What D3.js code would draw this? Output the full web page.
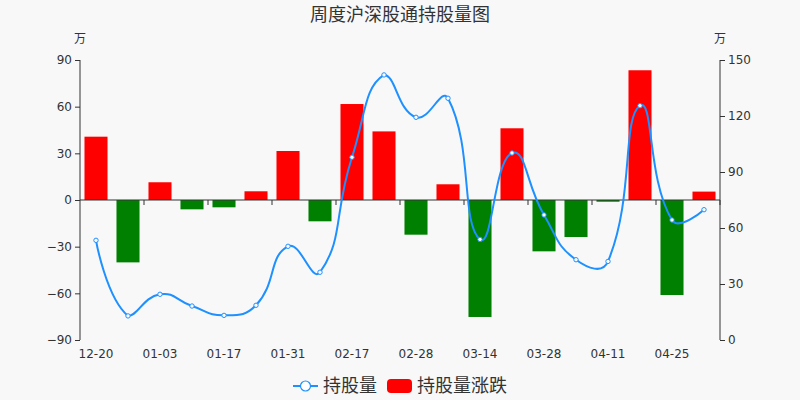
<!DOCTYPE html>
<html><head><meta charset="utf-8">
<script src="https://cdn.jsdelivr.net/npm/d3@7/dist/d3.min.js"></script>
<style>
html,body{margin:0;padding:0;background:#f8f8f8;}
svg{display:block;font-family:"DejaVu Sans","Noto Sans CJK SC",sans-serif;}
</style></head>
<body><svg id="c" width="800" height="400"></svg>
<script>
const categories = ["12-20","12-27","01-03","01-10","01-17","01-24","01-31","02-07","02-17","02-21","02-28","03-07","03-14","03-21","03-28","04-04","04-11","04-18","04-25","05-02"];
const holdings = [53.4,12.9,24.5,18.2,13.2,18.6,50.2,36.3,97.9,142.0,119.3,129.5,53.9,100.2,67.0,43.0,42.1,125.5,64.3,69.8];
const changes = [40.7,-40.1,11.4,-6.0,-4.7,5.6,31.5,-13.7,61.7,44.1,-22.3,10.1,-75.2,46.1,-33.0,-23.8,-1.1,83.4,-61.1,5.4];
const leftTicks = [-90,-60,-30,0,30,60,90];
const rightTicks = [0,30,60,90,120,150];
const title = "周度沪深股通持股量图";
const unit = "万";
const legendLine = "持股量";
const legendBar = "持股量涨跌";

const svg = d3.select("#c");
const L=80,R=720,T=60,B=340;
const x = d3.scaleBand().domain(categories).range([L,R]).paddingInner(0.28).paddingOuter(0.14);
const xb = d3.scaleBand().domain(categories).range([L,R]);
const yL = d3.scaleLinear().domain([-90,90]).range([B,T]);
const yR = d3.scaleLinear().domain([0,150]).range([B,T]);
const axisCol="#333", txtCol="#333";
const cjk = "Noto Sans CJK SC";

svg.append("text").attr("x",400).attr("y",21).attr("text-anchor","middle")
  .attr("font-size",18).attr("fill","#333").attr("font-family",cjk).text(title);
svg.append("text").attr("x",80).attr("y",43).attr("text-anchor","middle").attr("font-size",12).attr("fill",txtCol).attr("font-family",cjk).text(unit);
svg.append("text").attr("x",720).attr("y",43).attr("text-anchor","middle").attr("font-size",12).attr("fill",txtCol).attr("font-family",cjk).text(unit);

// bars
svg.append("g").selectAll("rect").data(changes).join("rect")
  .attr("x",(d,i)=>x(categories[i]))
  .attr("width",x.bandwidth())
  .attr("y",d=>yL(Math.max(0,d)))
  .attr("height",d=>Math.abs(yL(d)-yL(0)))
  .attr("fill",d=>d>=0?"#ff0000":"#008000");

// y axes
const gl = svg.append("g").attr("transform",`translate(${L},0)`)
  .call(d3.axisLeft(yL).tickValues(leftTicks).tickSize(5).tickPadding(3));
const gr = svg.append("g").attr("transform",`translate(${R},0)`)
  .call(d3.axisRight(yR).tickValues(rightTicks).tickSize(5).tickPadding(3));
[gl,gr].forEach(g=>{
  g.select(".domain").attr("stroke",axisCol).attr("d",`M0,${T}V${B}`);
  g.selectAll(".tick line").attr("stroke",axisCol);
  g.selectAll(".tick text").attr("fill",txtCol).attr("font-size",12).attr("font-family","DejaVu Sans");
});

// x axis at zero
const gx = svg.append("g").attr("transform",`translate(0,${yL(0)})`);
gx.append("line").attr("x1",L).attr("x2",R).attr("stroke",axisCol);
const tickIdx = categories.map((c,i)=>i).filter(i=>i%2===0);
gx.selectAll(".tk").data(tickIdx.slice(1).concat([categories.length])).join("line")
  .attr("x1",i=>L+xb.step()*i).attr("x2",i=>L+xb.step()*i)
  .attr("y1",0).attr("y2",5).attr("stroke",axisCol);
svg.append("g").selectAll("text").data(tickIdx).join("text")
  .attr("x",i=>xb(categories[i])+xb.bandwidth()/2).attr("y",358)
  .attr("text-anchor","middle").attr("font-size",12).attr("fill",txtCol)
  .text(i=>categories[i]);

// smooth line (ECharts-style bezier smoothing)
const pts = holdings.map((d,i)=>[xb(categories[i])+xb.bandwidth()/2, yR(d)]);
function smoothPath(p, smooth){
  const path = d3.path();
  const minX=d3.min(p,d=>d[0]), maxX=d3.max(p,d=>d[0]);
  const minY=d3.min(p,d=>d[1]), maxY=d3.max(p,d=>d[1]);
  const clamp=(c)=>[Math.min(Math.max(c[0],minX),maxX),Math.min(Math.max(c[1],minY),maxY)];
  let cp0 = p[0].slice();
  path.moveTo(p[0][0],p[0][1]);
  for(let i=1;i<p.length;i++){
    const cur=p[i], prev=p[i-1], next=p[i+1];
    let cp1, ratio=0.5, v=[0,0];
    if(!next){ cp1=cur.slice(); }
    else{
      v=[next[0]-prev[0], next[1]-prev[1]];
      const lp=Math.hypot(cur[0]-prev[0],cur[1]-prev[1]);
      const ln=Math.hypot(next[0]-cur[0],next[1]-cur[1]);
      ratio=ln/(ln+lp);
      cp1=[cur[0]-v[0]*smooth*(1-ratio), cur[1]-v[1]*smooth*(1-ratio)];
    }
    const a=clamp(cp0), b=clamp(cp1);
    path.bezierCurveTo(a[0],a[1],b[0],b[1],cur[0],cur[1]);
    cp0=[cur[0]+v[0]*smooth*ratio, cur[1]+v[1]*smooth*ratio];
  }
  return path.toString();
}
svg.append("path").attr("d",smoothPath(pts,0.5)).attr("fill","none").attr("stroke","#1e90ff").attr("stroke-width",2);
svg.append("g").selectAll("circle").data(holdings).join("circle")
  .attr("cx",(d,i)=>xb(categories[i])+xb.bandwidth()/2).attr("cy",d=>yR(d)).attr("r",2.2)
  .attr("fill","#fff").attr("stroke","#1e90ff").attr("stroke-width",1);

// legend
const lg = svg.append("g");
lg.append("line").attr("x1",293).attr("x2",318).attr("y1",386).attr("y2",386).attr("stroke","#1e90ff").attr("stroke-width",2);
lg.append("circle").attr("cx",305.5).attr("cy",386).attr("r",5).attr("fill","#fff").attr("stroke","#1e90ff").attr("stroke-width",1.2);
lg.append("text").attr("x",323).attr("y",392).attr("font-size",18).attr("fill","#333").attr("font-family",cjk).text(legendLine);
lg.append("rect").attr("x",387).attr("y",379).attr("width",25).attr("height",14).attr("rx",4).attr("fill","#ff0000");
lg.append("text").attr("x",417).attr("y",392).attr("font-size",18).attr("fill","#333").attr("font-family",cjk).text(legendBar);
</script></body></html>
